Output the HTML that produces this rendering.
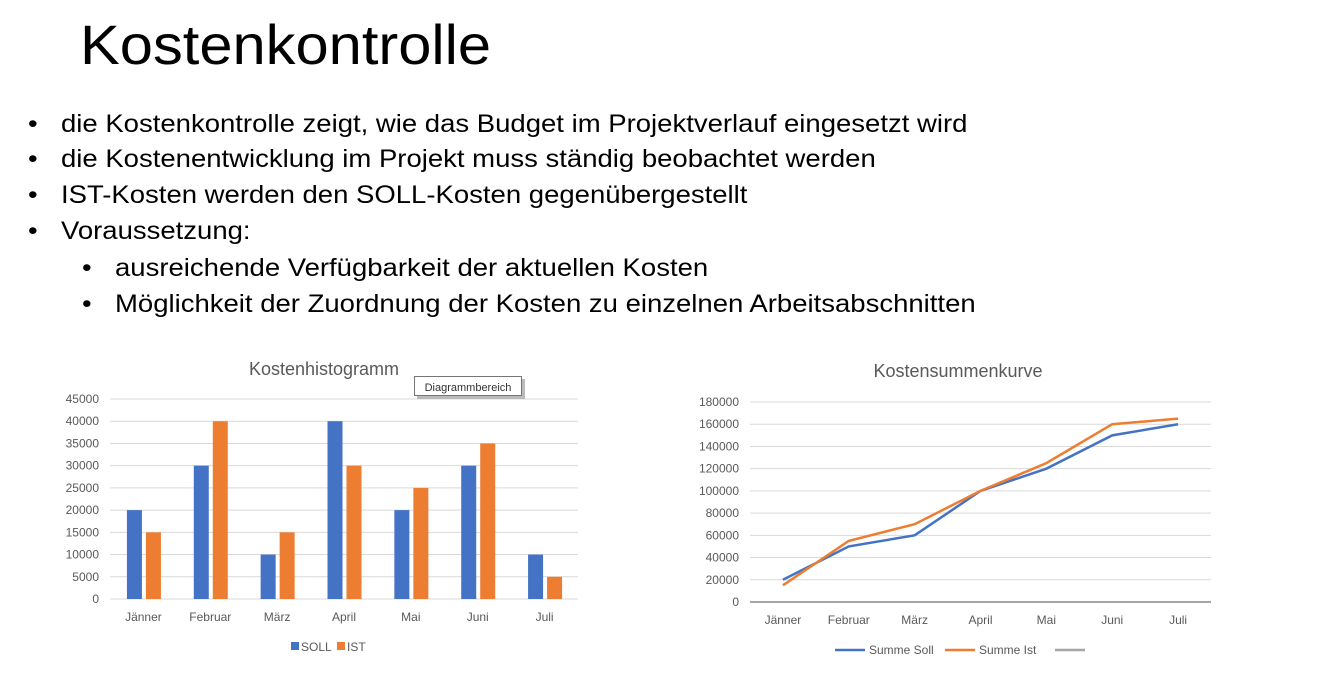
<!DOCTYPE html>
<html><head><meta charset="utf-8"><style>
body{margin:0;width:1331px;height:682px;background:#fff;font-family:"Liberation Sans",sans-serif;overflow:hidden;position:relative}
.t{position:absolute;white-space:nowrap;color:#000}
.b{font-size:25px;transform:scaleX(1.1);transform-origin:0 0}
.b span{display:inline-block;width:30px}
</style></head><body>
<div class="t" style="left:80px;top:12px;font-size:56px;transform:scaleX(1.065);transform-origin:0 0">Kostenkontrolle</div>
<div>
<div class="t b" style="left:28px;top:110px"><span>•</span>die Kostenkontrolle zeigt, wie das Budget im Projektverlauf eingesetzt wird</div>
<div class="t b" style="left:28px;top:145px"><span>•</span>die Kostenentwicklung im Projekt muss ständig beobachtet werden</div>
<div class="t b" style="left:28px;top:181px"><span>•</span>IST-Kosten werden den SOLL-Kosten gegenübergestellt</div>
<div class="t b" style="left:28px;top:217px"><span>•</span>Voraussetzung:</div>
<div class="t b" style="left:82px;top:254px"><span>•</span>ausreichende Verfügbarkeit der aktuellen Kosten</div>
<div class="t b" style="left:82px;top:290px"><span>•</span>Möglichkeit der Zuordnung der Kosten zu einzelnen Arbeitsabschnitten</div>
</div>
<svg id="c" width="1331" height="682" style="position:absolute;left:0;top:0" font-family="Liberation Sans, sans-serif"></svg>
<script>
const months=["Jänner","Februar","März","April","Mai","Juni","Juli"];
const soll=[20000,30000,10000,40000,20000,30000,10000];
const ist=[15000,40000,15000,30000,25000,35000,5000];
const ticksL=[0,5000,10000,15000,20000,25000,30000,35000,40000,45000];
const sumSoll=[20000,50000,60000,100000,120000,150000,160000];
const sumIst=[15000,55000,70000,100000,125000,160000,165000];
const ticksR=[0,20000,40000,60000,80000,100000,120000,140000,160000,180000];
const svg=document.getElementById('c');
const NS='http://www.w3.org/2000/svg';
function mk(tag,at,txt){const e=document.createElementNS(NS,tag);for(const k in at)e.setAttribute(k,at[k]);if(txt!=null)e.textContent=txt;svg.appendChild(e);return e;}
const BLUE='#4472c4',ORANGE='#ed7d31',GRID='#d9d9d9',TXT='#595959';
const L={x0:110,x1:578,y0:599,y1:399,max:45000};
const ly=v=>L.y0-(v/L.max)*(L.y0-L.y1);
const lw=(L.x1-L.x0)/months.length;
let e=mk('text',{x:324,y:375,'text-anchor':'middle','font-size':18,fill:TXT},'Kostenhistogramm');

ticksL.forEach(t=>{
 let g=mk('line',{x1:L.x0,x2:L.x1,y1:ly(t),y2:ly(t),stroke:GRID,'stroke-width':1});
 
 let l=mk('text',{x:99,y:ly(t)+4,'text-anchor':'end','font-size':12,fill:TXT},t);
 
});
months.forEach((m,i)=>{
 const c=L.x0+lw*(i+0.5);
 let b=mk('rect',{x:c-16.5,y:ly(soll[i]),width:15,height:L.y0-ly(soll[i]),fill:BLUE});
 
 b=mk('rect',{x:c+2.5,y:ly(ist[i]),width:15,height:L.y0-ly(ist[i]),fill:ORANGE});
 
 let t=mk('text',{x:c,y:621,'text-anchor':'middle','font-size':12,fill:TXT},m);
 
});
e=mk('rect',{x:291,y:642,width:8,height:8,fill:BLUE});
e=mk('text',{x:301,y:651,'font-size':12,fill:TXT},'SOLL');
e=mk('rect',{x:337,y:642,width:8,height:8,fill:ORANGE});
e=mk('text',{x:347,y:651,'font-size':12,fill:TXT},'IST');
e=mk('rect',{x:417,y:379,width:108,height:20,fill:'#bbb'});
e=mk('rect',{x:414.5,y:376.5,width:107,height:19,fill:'#fff',stroke:'#767676'});
e=mk('text',{x:468,y:391,'text-anchor':'middle','font-size':11,fill:'#333'},'Diagrammbereich');
const R={x0:750,x1:1211,y0:602,y1:402,max:180000};
const ry=v=>R.y0-(v/R.max)*(R.y0-R.y1);
const rw=(R.x1-R.x0)/months.length;
const rx=i=>R.x0+rw*(i+0.5);
e=mk('text',{x:958,y:377,'text-anchor':'middle','font-size':18,fill:TXT},'Kostensummenkurve');

ticksR.forEach(t=>{
 let g=mk('line',{x1:R.x0,x2:R.x1,y1:ry(t),y2:ry(t),stroke:GRID,'stroke-width':1});
 
 let l=mk('text',{x:739,y:ry(t)+4,'text-anchor':'end','font-size':12,fill:TXT},t);
 
});
e=mk('line',{x1:R.x0,x2:R.x1,y1:R.y0,y2:R.y0,stroke:'#a5a5a5','stroke-width':2});

months.forEach((m,i)=>{
 let t=mk('text',{x:rx(i),y:624,'text-anchor':'middle','font-size':12,fill:TXT},m);
 
});
e=mk('polyline',{points:sumSoll.map((v,i)=>rx(i)+','+ry(v)).join(' '),fill:'none',stroke:BLUE,'stroke-width':2.5});

e=mk('polyline',{points:sumIst.map((v,i)=>rx(i)+','+ry(v)).join(' '),fill:'none',stroke:ORANGE,'stroke-width':2.5});

e=mk('line',{x1:835,x2:865,y1:650,y2:650,stroke:BLUE,'stroke-width':2.5});
e=mk('text',{x:869,y:654,'font-size':12,fill:TXT},'Summe Soll');
e=mk('line',{x1:945,x2:975,y1:650,y2:650,stroke:ORANGE,'stroke-width':2.5});
e=mk('text',{x:979,y:654,'font-size':12,fill:TXT},'Summe Ist');
e=mk('line',{x1:1055,x2:1085,y1:650,y2:650,stroke:'#a5a5a5','stroke-width':2.5});
</script>
</body></html>
